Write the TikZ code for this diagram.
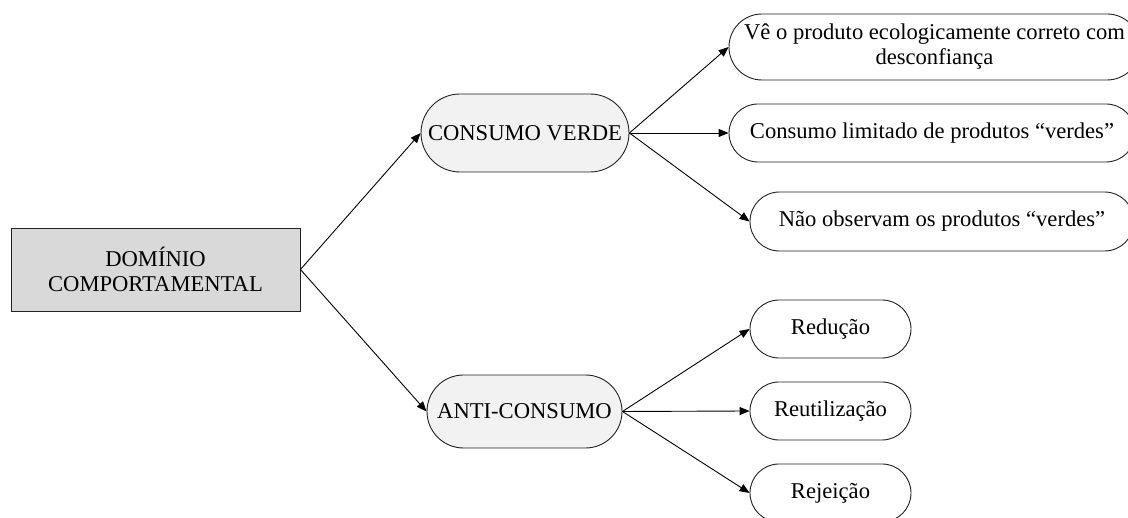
\documentclass[tikz,border=0pt]{standalone}
\usepackage{fontspec}
\setmainfont{Liberation Serif}
\usetikzlibrary{shapes.misc,arrows.meta}
\definecolor{rootfill}{HTML}{D9D9D9}
\definecolor{midfill}{HTML}{F2F2F2}
\definecolor{edge}{HTML}{222222}
\tikzset{
  x=1pt, y=1pt,
  every node/.style={font=\fontsize{22.6}{25}\selectfont, align=center, inner sep=0pt, text=black},
  rootbox/.style={draw=edge, line width=0.9pt, fill=rootfill, rectangle},
  midbox/.style={draw=edge, line width=0.9pt, fill=midfill, rounded rectangle},
  leafbox/.style={draw=edge, line width=0.9pt, fill=white, rounded rectangle},
  link/.style={draw=black, line width=0.9pt, -{Triangle[length=10pt,width=8pt]}}
}
\begin{document}
\begin{tikzpicture}
\clip (0,0) rectangle (1128,518);
\fill[white] (0,0) rectangle (1128,518);

% root
\node[rootbox, minimum width=289, minimum height=83] (dom) at (155.5,248.5) {DOMÍNIO\\COMPORTAMENTAL};

% second level
\node[midbox, minimum width=208, minimum height=78] (cv) at (525,385) {CONSUMO VERDE};
\node[midbox, minimum width=195, minimum height=73] (ac) at (524.5,106.5) {ANTI-CONSUMO};

% leaves of consumo verde
\node[leafbox, minimum width=411, minimum height=66] (ve) at (934.5,471) {Vê o produto ecologicamente correto com\\desconfiança};
\node[leafbox, minimum width=406, minimum height=58] (cl) at (932,385) {Consumo limitado de produtos “verdes”};
\node[leafbox, minimum width=384, minimum height=59] (no) at (942,296.5) {Não observam os produtos “verdes”};

% leaves of anti-consumo
\node[leafbox, minimum width=161, minimum height=58] (red) at (830.5,189) {Redução};
\node[leafbox, minimum width=161, minimum height=58] (reu) at (830.5,107) {Reutilização};
\node[leafbox, minimum width=161, minimum height=58] (rej) at (830.5,25) {Rejeição};

% connectors
\draw[link] (dom.east) -- (cv.west);
\draw[link] (dom.east) -- (ac.west);
\draw[link] (cv.east) -- (ve.west);
\draw[link] (cv.east) -- (cl.west);
\draw[link] (cv.east) -- (no.west);
\draw[link] (ac.east) -- (red.west);
\draw[link] (ac.east) -- (reu.west);
\draw[link] (ac.east) -- (rej.west);
\end{tikzpicture}
\end{document}
